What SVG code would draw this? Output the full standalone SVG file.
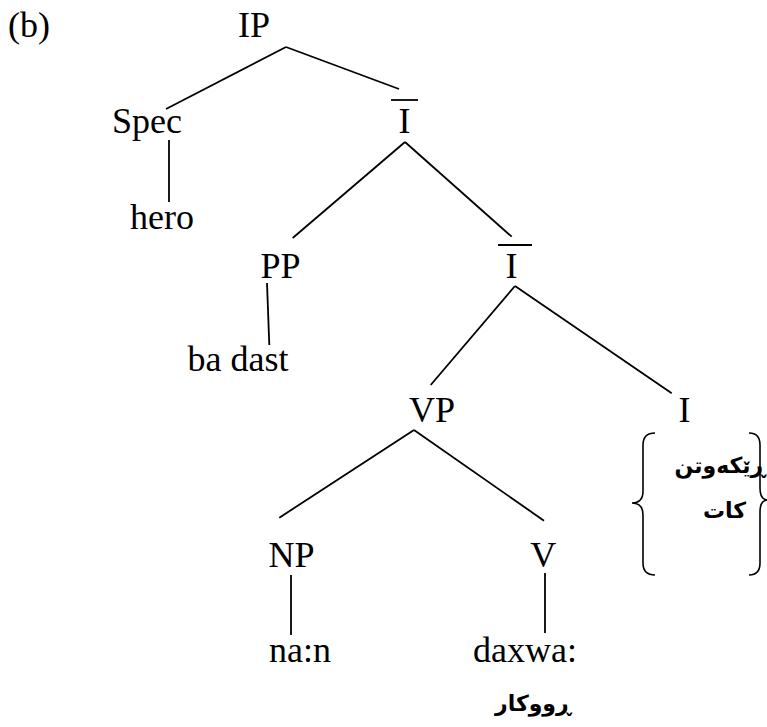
<svg xmlns="http://www.w3.org/2000/svg" width="767" height="727" viewBox="0 0 767 727">
<style>
.t{font-family:"Liberation Serif","Times New Roman",serif;font-size:36px;fill:#000;text-anchor:middle}
.k{font-family:"DejaVu Sans","Noto Sans",sans-serif;font-size:22px;font-weight:bold;fill:#000;text-anchor:middle}
.e{stroke:#000;stroke-width:1.8;fill:none;stroke-linecap:butt}
.b{stroke:#000;stroke-width:1.6;fill:none}
</style>
<rect width="767" height="727" fill="#fff"/>
<text class="t" x="8" y="37" style="text-anchor:start">(b)</text>
<g id="connectors">
<line class="e" x1="286" y1="47" x2="166" y2="109"/>
<line class="e" x1="286" y1="47" x2="399" y2="89"/>
<line class="e" x1="169" y1="140" x2="169" y2="202"/>
<line class="e" x1="405" y1="142" x2="292.7" y2="238"/>
<line class="e" x1="405" y1="142" x2="511.7" y2="236.7"/>
<line class="e" x1="267" y1="283" x2="269.3" y2="345"/>
<line class="e" x1="515" y1="286" x2="430.7" y2="385"/>
<line class="e" x1="515" y1="286" x2="671.7" y2="393.3"/>
<line class="e" x1="414" y1="430" x2="279.3" y2="517.7"/>
<line class="e" x1="414" y1="430" x2="544" y2="520.7"/>
<line class="e" x1="291" y1="575" x2="291" y2="635"/>
<line class="e" x1="545" y1="573" x2="545" y2="633"/>
</g>
<g id="IP"><text class="t" x="254" y="37">IP</text></g>
<g id="Spec"><text class="t" x="147" y="133">Spec</text></g>
<g id="hero"><text class="t" x="162" y="229">hero</text></g>
<g id="Ibar1"><line class="e" x1="391" y1="100" x2="418" y2="100"/><text class="t" x="404.5" y="133">I</text></g>
<g id="PP"><text class="t" x="280.5" y="278">PP</text></g>
<g id="badast"><text class="t" x="238" y="371">ba dast</text></g>
<g id="Ibar2"><line class="e" x1="498" y1="245" x2="532" y2="245"/><text class="t" x="511.5" y="277.7">I</text></g>
<g id="VP"><text class="t" x="432" y="421.7">VP</text></g>
<g id="I"><text class="t" x="684.5" y="421.7">I</text></g>
<g id="features">
<path class="b" d="M655,433 Q643,433 643,445 L643,491 Q643,503 632,503 Q643,503 643,515 L643,563 Q643,575 655,575"/>
<path class="b" d="M749,433 Q760,433 760,445 L760,488 Q760,500 768,500 Q760,500 760,512 L760,563 Q760,575 749,575"/>
<text class="k" x="720" y="473" direction="rtl">ڕێکەوتن</text>
<text class="k" x="724.5" y="518" direction="rtl">کات</text>
</g>
<g id="NP"><text class="t" x="291.5" y="566.7">NP</text></g>
<g id="V"><text class="t" x="543.3" y="566.7">V</text></g>
<g id="nan"><text class="t" x="300" y="662">na:n</text></g>
<g id="daxwa"><text class="t" x="525" y="662">daxwa:</text></g>
<g id="ruukar"><text class="k" x="533" y="711" direction="rtl">ڕووکار</text></g>
</svg>
